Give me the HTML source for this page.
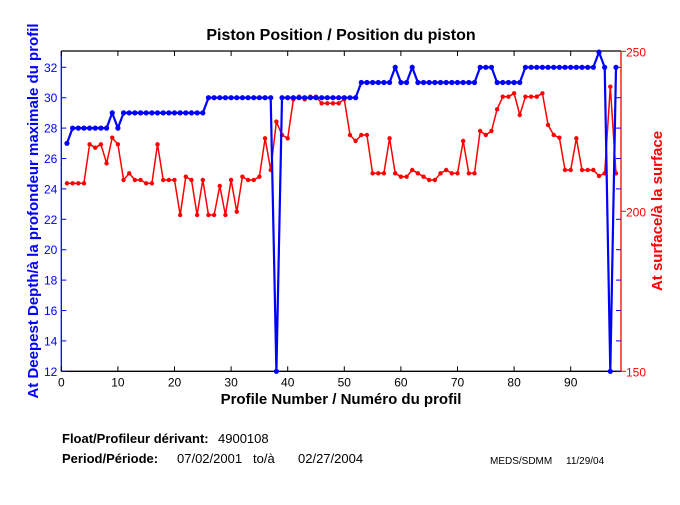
<!DOCTYPE html>
<html><head><meta charset="utf-8"><style>
body{margin:0;background:#fff;width:680px;height:500px;overflow:hidden}
text{font-family:"Liberation Sans",Arial,sans-serif}
</style></head><body>
<svg id="s" width="680" height="500" xmlns="http://www.w3.org/2000/svg">
<text x="341" y="40" font-size="16" font-weight="bold" text-anchor="middle">Piston Position / Position du piston</text>
<text x="341" y="404" font-size="15" font-weight="bold" text-anchor="middle">Profile Number / Numéro du profil</text>
<text transform="translate(38,211) rotate(-90)" font-size="15" font-weight="bold" fill="#0000ff" text-anchor="middle">At Deepest Depth/à la profondeur maximale du profil</text>
<text transform="translate(662,211) rotate(-90)" font-size="15" font-weight="bold" fill="#ff0000" text-anchor="middle">At surface/à la surface</text>
<text x="62" y="443" font-size="13" font-weight="bold">Float/Profileur dérivant:</text>
<text x="218" y="443" font-size="13">4900108</text>
<text x="62" y="463" font-size="13" font-weight="bold">Period/Période:</text>
<text x="177" y="463" font-size="13">07/02/2001</text>
<text x="253" y="463" font-size="13">to/à</text>
<text x="298" y="463" font-size="13">02/27/2004</text>
<text x="490" y="464" font-size="10">MEDS/SDMM</text>
<text x="566" y="464" font-size="10">11/29/04</text>
<g id="g"></g>
</svg>
<script>
var NS="http://www.w3.org/2000/svg",g=document.getElementById('g');
function el(t,a,txt){var e=document.createElementNS(NS,t);for(var k in a)e.setAttribute(k,a[k]);if(txt!=null)e.textContent=txt;g.appendChild(e);return e;}
var L=61.3,R=621,T=51,B=371.3,S=5.66;
function X(n){return L+S*n;}
function YB(v){return B-(v-12)*15.2;}
function YR(v){return B-(v-150)*3.2;}
el('line',{x1:L,y1:T,x2:R,y2:T,stroke:'#000','stroke-width':1.3});
el('line',{x1:L,y1:B,x2:R,y2:B,stroke:'#000','stroke-width':1.3});
el('line',{x1:L,y1:T,x2:L,y2:B,stroke:'#0000ff','stroke-width':1.3});
el('line',{x1:R,y1:T,x2:R,y2:B,stroke:'#ff0000','stroke-width':1.3});
for(var i=0;i<=90;i+=10){var x=X(i);el('line',{x1:x,y1:B,x2:x,y2:B-5,stroke:'#000'});el('line',{x1:x,y1:T,x2:x,y2:T+5,stroke:'#000'});el('text',{x:x,y:B+15,'font-size':12,'text-anchor':'middle'},i);}
for(var v=12;v<=32;v+=2){var y=YB(v);el('line',{x1:L,y1:y,x2:L+5,y2:y,stroke:'#0000ff'});el('line',{x1:R,y1:y,x2:R-5,y2:y,stroke:'#0000ff'});el('text',{x:L-4,y:y+4.5,'font-size':12,'text-anchor':'end',fill:'#0000ff'},v);}
for(var v=150;v<=250;v+=50){var y=YR(v);el('line',{x1:R,y1:y,x2:R+5,y2:y,stroke:'#ff0000'});el('text',{x:R+5,y:y+5,'font-size':12,fill:'#ff0000'},v);}
var b=[];b[1]=27;for(var n=2;n<=8;n++)b[n]=28;b[9]=29;b[10]=28;for(n=11;n<=25;n++)b[n]=29;for(n=26;n<=37;n++)b[n]=30;b[38]=12;for(n=39;n<=52;n++)b[n]=30;for(n=53;n<=58;n++)b[n]=31;b[59]=32;b[60]=31;b[61]=31;b[62]=32;for(n=63;n<=73;n++)b[n]=31;for(n=74;n<=76;n++)b[n]=32;for(n=77;n<=81;n++)b[n]=31;for(n=82;n<=94;n++)b[n]=32;b[95]=33;b[96]=32;b[97]=12;b[98]=32;
var r1=[430,430,430,430,313,323,313,370,293,313,420,400,420,420,430,430,313,420,420,420,525,410,420,525,420,525,525,438,525,420,515,410,420,420,410,295,390,245,285,295,178,170,178,170,170,190,190,190,190];
var r2=[178,285,303,285,285,400,400,400,295,400,410,410,390,400,410,420,420,400,390,400,400,303,400,400,273,285,273,208,170,170,160,225,170,170,170,160,255,285,293,390,390,295,390,390,390,408,400,140,400];
var rp=[],bp=[];
for(n=1;n<=49;n++)rp.push([X(n),40+r1[n-1]/3]);
for(n=50;n<=98;n++)rp.push([X(n),40+r2[n-50]/3]);
for(n=1;n<=98;n++)bp.push([X(n),YB(b[n])]);
function poly(p,c,w,r){el('polyline',{points:p.map(function(q){return q[0].toFixed(1)+','+q[1].toFixed(1)}).join(' '),fill:'none',stroke:c,'stroke-width':w});p.forEach(function(q){el('circle',{cx:q[0],cy:q[1],r:r,fill:c});});}
poly(rp,'#ff0000',1.5,2.2);
poly(bp,'#0000ff',2.2,2.6);
</script>
</body></html>
